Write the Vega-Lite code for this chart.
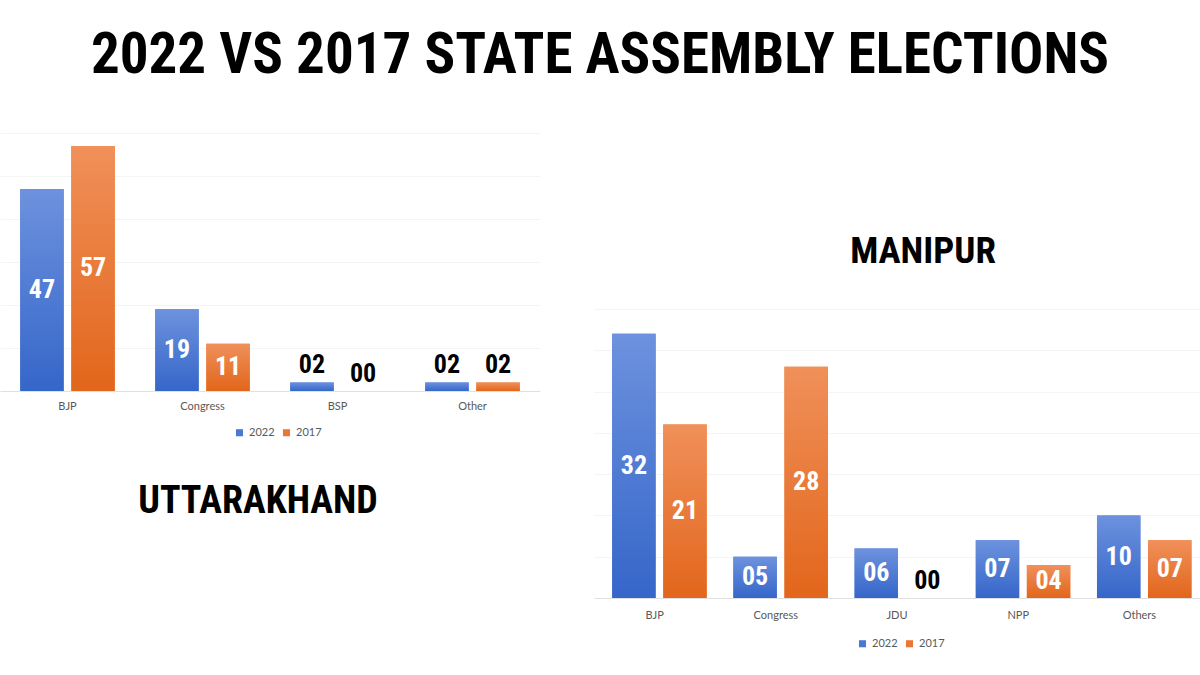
{
  "$schema": "https://vega.github.io/schema/vega-lite/v6.json",
  "background": "white",
  "padding": {"top": 27, "left": 0, "right": 0, "bottom": 0},
  "title": {"text": "2022 VS 2017 STATE ASSEMBLY ELECTIONS", "font": "'Roboto Condensed', 'DejaVu Sans Condensed', sans-serif", "fontSize": 57, "fontWeight": "bold", "color": "#000000", "anchor": "middle", "offset": 48},
  "datasets": {
    "uttarakhand": [
      {"party": "BJP", "year": "2022", "seats": 47},
      {"party": "BJP", "year": "2017", "seats": 57},
      {"party": "Congress", "year": "2022", "seats": 19},
      {"party": "Congress", "year": "2017", "seats": 11},
      {"party": "BSP", "year": "2022", "seats": 2},
      {"party": "BSP", "year": "2017", "seats": 0},
      {"party": "Other", "year": "2022", "seats": 2},
      {"party": "Other", "year": "2017", "seats": 2}
    ],
    "manipur": [
      {"party": "BJP", "year": "2022", "seats": 32},
      {"party": "BJP", "year": "2017", "seats": 21},
      {"party": "Congress", "year": "2022", "seats": 5},
      {"party": "Congress", "year": "2017", "seats": 28},
      {"party": "JDU", "year": "2022", "seats": 6},
      {"party": "JDU", "year": "2017", "seats": 0},
      {"party": "NPP", "year": "2022", "seats": 7},
      {"party": "NPP", "year": "2017", "seats": 4},
      {"party": "Others", "year": "2022", "seats": 10},
      {"party": "Others", "year": "2017", "seats": 7}
    ]
  },
  "spacing": 54,
  "resolve": {"scale": {"color": "independent"}, "legend": {"color": "independent"}},
  "config": {
    "view": {"stroke": null},
    "legend": {"orient": "none", "direction": "horizontal", "title": null, "symbolType": "square", "symbolSize": 50, "labelFont": "Lato", "labelFontSize": 11, "labelColor": "#595959", "columnPadding": 6, "symbolStrokeWidth": 0}
  },
  "hconcat": [
    {
      "width": 540,
      "height": 258,
      "data": {"name": "uttarakhand"},
      "title": {"text": "UTTARAKHAND", "orient": "bottom", "font": "'Roboto Condensed', 'DejaVu Sans Condensed', sans-serif", "fontSize": 38, "fontWeight": "bold", "color": "#000000", "offset": 45, "dx": -12},
      "encoding": {
        "x": {"field": "party", "type": "nominal", "sort": null, "scale": {"paddingInner": 0.3, "paddingOuter": 0.15},
              "axis": {"title": null, "labelAngle": 0, "ticks": false, "domainColor": "#e0e0e0", "labelFont": "Lato", "labelFontSize": 11, "labelColor": "#595959", "labelPadding": 9}},
        "xOffset": {"field": "year", "type": "nominal", "sort": ["2022", "2017"], "scale": {"paddingInner": 0.15}}
      },
      "layer": [
        {
          "mark": {"type": "bar"},
          "encoding": {
            "y": {"field": "seats", "type": "quantitative", "scale": {"domain": [0, 60]},
                  "axis": {"title": null, "labels": false, "ticks": false, "domain": false, "grid": true, "gridColor": "#f4f4f4", "values": [10, 20, 30, 40, 50, 60]}},
            "color": {"field": "year", "type": "nominal", "scale": {"domain": ["2022", "2017"], "range": ["#4a78d2", "#ea7733"]},
                      "legend": {"legendX": 234, "legendY": 294}}
          }
        },
        {
          "mark": {"type": "bar"},
          "encoding": {
            "y": {"field": "seats", "type": "quantitative", "scale": {"domain": [0, 60]}, "axis": null},
            "color": {"condition": {"test": "datum.year === '2022'", "value": {"gradient": "linear", "x1": 0, "y1": 0, "x2": 0, "y2": 1, "stops": [{"offset": 0, "color": "#6d92de"}, {"offset": 1, "color": "#3566c9"}]}},
                      "value": {"gradient": "linear", "x1": 0, "y1": 0, "x2": 0, "y2": 1, "stops": [{"offset": 0, "color": "#f0905a"}, {"offset": 1, "color": "#e2661b"}]}}
          }
        },
        {
          "transform": [{"filter": "datum.seats >= 4"}],
          "mark": {"type": "text", "font": "'Roboto Condensed', 'DejaVu Sans Condensed', sans-serif", "fontWeight": "bold", "fontSize": 26, "color": "#ffffff", "baseline": "middle"},
          "encoding": {
            "y": {"field": "seats", "type": "quantitative", "scale": {"domain": [0, 120]}, "axis": null},
            "text": {"field": "seats", "type": "quantitative", "format": "02d"}
          }
        },
        {
          "transform": [{"filter": "datum.seats < 4"}],
          "mark": {"type": "text", "font": "'Roboto Condensed', 'DejaVu Sans Condensed', sans-serif", "fontWeight": "bold", "fontSize": 26, "color": "#000000", "baseline": "bottom", "dy": -4},
          "encoding": {
            "y": {"field": "seats", "type": "quantitative", "scale": {"domain": [0, 60]}, "axis": null},
            "text": {"field": "seats", "type": "quantitative", "format": "02d"}
          }
        }
      ],
      "resolve": {"scale": {"y": "independent"}}
    },
    {
      "width": 606,
      "height": 465,
      "data": {"name": "manipur"},
      "title": {"text": "MANIPUR", "orient": "top", "font": "'Roboto Condensed', 'DejaVu Sans Condensed', sans-serif", "fontSize": 37, "fontWeight": "bold", "color": "#000000", "offset": 4, "dx": 26, "dy": 142, "anchor": "middle"},
      "encoding": {
        "x": {"field": "party", "type": "nominal", "sort": null, "scale": {"paddingInner": 0.3, "paddingOuter": 0.15},
              "axis": {"title": null, "labelAngle": 0, "ticks": false, "domainColor": "#e0e0e0", "labelFont": "Lato", "labelFontSize": 11, "labelColor": "#595959", "labelPadding": 11}},
        "xOffset": {"field": "year", "type": "nominal", "sort": ["2022", "2017"], "scale": {"paddingInner": 0.15}}
      },
      "layer": [
        {
          "mark": {"type": "bar"},
          "encoding": {
            "y": {"field": "seats", "type": "quantitative", "scale": {"domain": [0, 56.3]},
                  "axis": {"title": null, "labels": false, "ticks": false, "domain": false, "grid": true, "gridColor": "#f4f4f4", "values": [5, 10, 15, 20, 25, 30, 35]}},
            "color": {"field": "year", "type": "nominal", "scale": {"domain": ["2022", "2017"], "range": ["#4a78d2", "#ea7733"]},
                      "legend": {"legendX": 263, "legendY": 505}}
          }
        },
        {
          "mark": {"type": "bar"},
          "encoding": {
            "y": {"field": "seats", "type": "quantitative", "scale": {"domain": [0, 56.3]}, "axis": null},
            "color": {"condition": {"test": "datum.year === '2022'", "value": {"gradient": "linear", "x1": 0, "y1": 0, "x2": 0, "y2": 1, "stops": [{"offset": 0, "color": "#6d92de"}, {"offset": 1, "color": "#3566c9"}]}},
                      "value": {"gradient": "linear", "x1": 0, "y1": 0, "x2": 0, "y2": 1, "stops": [{"offset": 0, "color": "#f0905a"}, {"offset": 1, "color": "#e2661b"}]}}
          }
        },
        {
          "transform": [{"filter": "datum.seats >= 4"}],
          "mark": {"type": "text", "font": "'Roboto Condensed', 'DejaVu Sans Condensed', sans-serif", "fontWeight": "bold", "fontSize": 26, "color": "#ffffff", "baseline": "middle"},
          "encoding": {
            "y": {"field": "seats", "type": "quantitative", "scale": {"domain": [0, 112.6]}, "axis": null},
            "text": {"field": "seats", "type": "quantitative", "format": "02d"}
          }
        },
        {
          "transform": [{"filter": "datum.seats < 4"}],
          "mark": {"type": "text", "font": "'Roboto Condensed', 'DejaVu Sans Condensed', sans-serif", "fontWeight": "bold", "fontSize": 26, "color": "#000000", "baseline": "bottom", "dy": -4},
          "encoding": {
            "y": {"field": "seats", "type": "quantitative", "scale": {"domain": [0, 56.3]}, "axis": null},
            "text": {"field": "seats", "type": "quantitative", "format": "02d"}
          }
        }
      ],
      "resolve": {"scale": {"y": "independent"}}
    }
  ]
}
